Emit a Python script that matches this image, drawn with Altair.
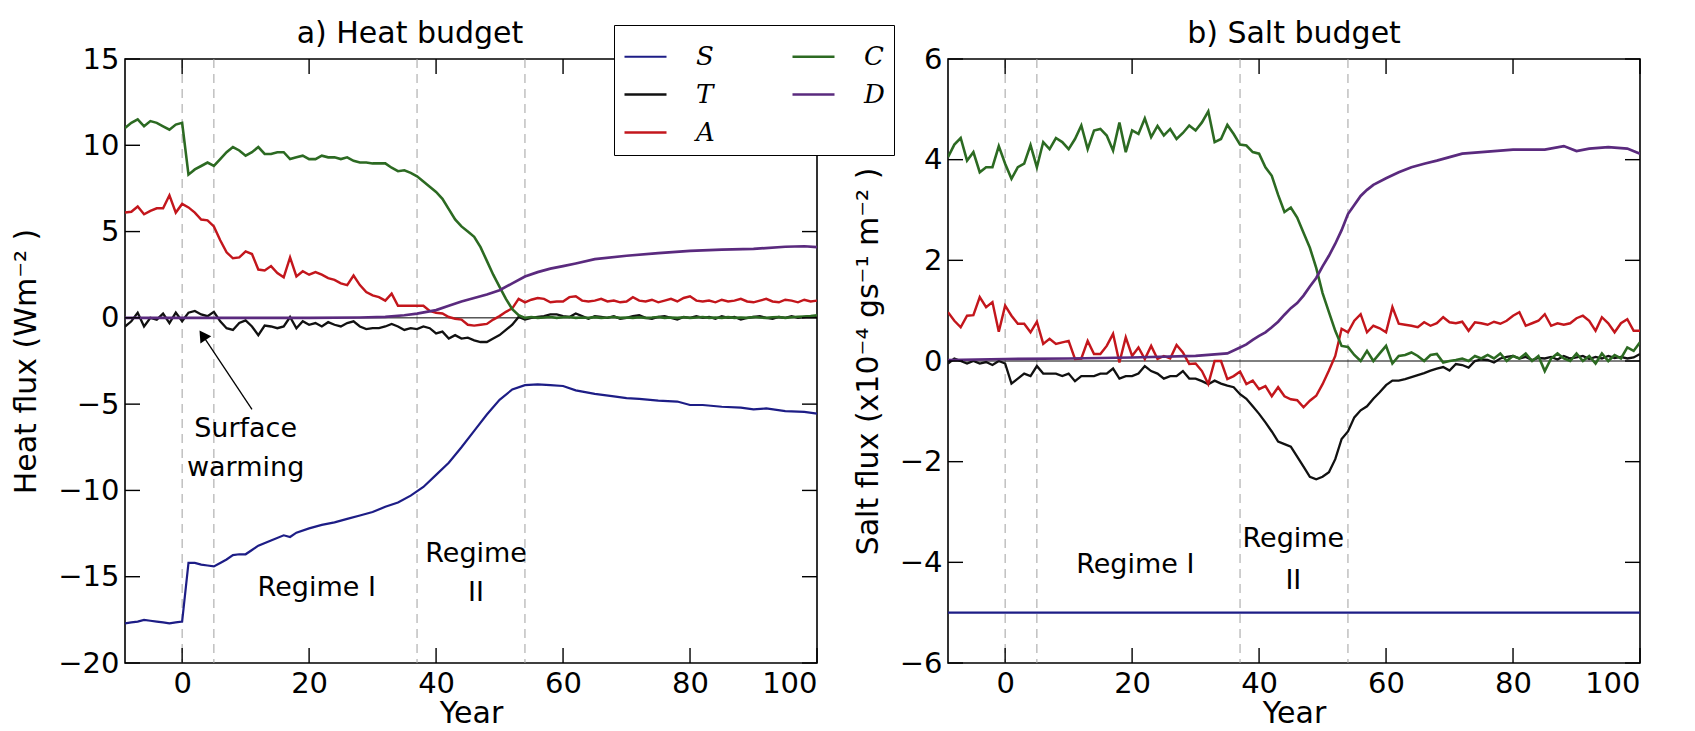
import altair as alt
import pandas as pd

# ---------------- data ----------------
YEARS = list(range(-9, 101))

SERIES = ["S", "T", "A", "C", "D"]          # legend fills column by column
COLORS = ["#1d1d86", "#111111", "#c3161c", "#2c6a22", "#5a2a7e"]
WIDTHS = [2.2, 2.7, 2.2, 2.2, 2.2]

# Heat budget (W m-2)
heat_C = [11.0, 11.3, 11.5, 11.1, 11.4, 11.3, 11.1, 10.9, 11.2, 11.3,
          8.3, 8.6, 8.8, 9.0, 8.8, 9.2, 9.6, 9.9, 9.7, 9.4,
          9.6, 9.9, 9.5, 9.5, 9.6, 9.6, 9.2, 9.3, 9.4, 9.2,
          9.2, 9.4, 9.3, 9.3, 9.2, 9.3, 9.1, 9.0, 9.0, 8.95,
          8.95, 8.95, 8.7, 8.5, 8.55, 8.4, 8.2, 7.9, 7.6, 7.3,
          6.9, 6.3, 5.7, 5.3, 5.0, 4.7, 4.1, 3.3, 2.5, 1.8,
          1.1, 0.5, 0.15, 0.0, 0.05, 0.0, 0.02, 0.05, 0.0, 0.03,
          0.05, 0.0, 0.02, 0.0, 0.04, 0.0, 0.02, 0.05, 0.0, 0.02,
          0.0, 0.03, 0.0, 0.02, 0.05, 0.0, 0.02, 0.0, 0.03, 0.0,
          0.02, 0.05, 0.0, 0.02, 0.0, 0.04, 0.0, 0.02, 0.0, 0.05,
          0.02, 0.0, 0.03, 0.05, 0.0, 0.04, 0.06, 0.08, 0.1, 0.15]
heat_A = [6.1, 6.15, 6.45, 6.0, 6.2, 6.35, 6.35, 7.1, 6.1, 6.6,
          6.4, 6.1, 5.7, 5.65, 5.3, 4.5, 3.8, 3.45, 3.5, 3.85,
          3.7, 2.8, 2.75, 3.0, 2.6, 2.35, 3.5, 2.4, 2.7, 2.5,
          2.65, 2.5, 2.3, 2.2, 2.0, 1.9, 2.45, 1.9, 1.5, 1.3,
          1.2, 1.0, 1.4, 0.7, 0.7, 0.7, 0.7, 0.7, 0.4, 0.3,
          0.25, 0.05, -0.05, -0.1, -0.4, -0.45, -0.4, -0.35, -0.1, 0.1,
          0.35, 0.55, 1.1, 0.9, 1.05, 1.15, 1.1, 0.9, 0.95, 0.95,
          1.2, 1.25, 1.0, 0.95, 1.0, 1.1, 0.95, 1.0, 0.9, 0.95,
          1.2, 1.0, 0.95, 1.05, 0.9, 1.0, 1.1, 0.95, 1.15, 1.25,
          1.0, 0.95, 1.0, 0.9, 1.05, 0.95, 1.0, 1.1, 0.95, 0.9,
          1.0, 1.1, 0.95, 0.9, 1.05, 1.0, 0.9, 1.05, 0.95, 1.0]
heat_T = [-0.5, -0.2, 0.3, -0.5, 0.0, -0.1, 0.25, -0.3, 0.3, -0.2,
          0.3, 0.4, 0.2, 0.1, 0.35, -0.2, -0.6, -0.7, -0.3, -0.15,
          -0.5, -1.0, -0.45, -0.5, -0.6, -0.5, 0.05, -0.6, -0.2, -0.4,
          -0.3, -0.5, -0.25, -0.4, -0.5, -0.3, -0.2, -0.5, -0.65, -0.6,
          -0.6, -0.5, -0.35, -0.5, -0.7, -0.6, -0.65, -0.5, -0.6, -0.9,
          -0.8, -1.2, -1.0, -1.2, -1.15, -1.3, -1.4, -1.4, -1.2, -1.0,
          -0.7, -0.4, 0.05, -0.1, 0.0, 0.05, 0.1, 0.2, 0.2, 0.1,
          0.05, 0.25, 0.1, -0.05, 0.1, 0.05, 0.0, 0.1, -0.05, 0.0,
          0.1, 0.15, 0.0, -0.05, 0.05, 0.1, 0.0, -0.1, 0.05, 0.0,
          0.1, 0.0, 0.05, -0.05, 0.1, 0.0, 0.05, -0.1, 0.0, 0.05,
          0.1, 0.0, -0.05, 0.05, 0.0, 0.1, 0.0, 0.05, 0.1, 0.05]
heat_D_years = [-9, 0, 10, 20, 28, 32, 35, 37, 40, 42, 44, 46, 48, 50, 52, 54,
                56, 58, 60, 62, 65, 70, 75, 80, 85, 90, 95, 98, 100]
heat_D = [0.0, 0.0, 0.0, 0.0, 0.02, 0.06, 0.15, 0.25, 0.45, 0.7, 0.95, 1.15,
          1.35, 1.6, 2.0, 2.4, 2.65, 2.85, 3.0, 3.15, 3.4, 3.6, 3.75, 3.88,
          3.95, 4.0, 4.12, 4.15, 4.1]
heat_S_years = [-9, -8, -7, -6, -5, -4, -3, -2, -1, 0, 1, 2, 3, 4, 5, 6, 7, 8, 9,
                10, 11, 12, 14, 16, 17, 18, 20, 22, 24, 26, 28, 30, 32, 34, 36,
                38, 40, 42, 44, 46, 48, 50, 52, 54, 56, 58, 60, 62, 65, 68, 70,
                72, 75, 78, 80, 82, 85, 88, 90, 92, 95, 98, 100]
heat_S = [-17.7, -17.65, -17.6, -17.5, -17.55, -17.6, -17.65, -17.7, -17.65,
          -17.6, -14.2, -14.2, -14.3, -14.35, -14.4, -14.2, -14.0, -13.75,
          -13.7, -13.7, -13.45, -13.2, -12.9, -12.6, -12.7, -12.45, -12.2,
          -12.0, -11.85, -11.65, -11.45, -11.25, -10.95, -10.7, -10.3, -9.8,
          -9.1, -8.4, -7.5, -6.55, -5.6, -4.75, -4.15, -3.9, -3.85, -3.9,
          -3.95, -4.2, -4.4, -4.55, -4.65, -4.7, -4.8, -4.85, -5.05, -5.05,
          -5.15, -5.2, -5.3, -5.25, -5.4, -5.45, -5.55]

# Salt budget (x10^-4 g s-1 m-2)
salt_C = [4.05, 4.3, 4.43, 3.98, 4.15, 3.75, 3.85, 3.85, 4.27, 3.92,
          3.62, 3.85, 3.92, 4.29, 3.85, 4.35, 4.21, 4.43, 4.35, 4.21,
          4.41, 4.68, 4.21, 4.58, 4.61, 4.48, 4.18, 4.74, 4.15, 4.58,
          4.51, 4.82, 4.45, 4.67, 4.48, 4.61, 4.41, 4.53, 4.68, 4.58,
          4.74, 4.96, 4.35, 4.41, 4.69, 4.51, 4.3, 4.28, 4.15, 4.12,
          3.85, 3.68, 3.3, 2.96, 3.05, 2.85, 2.55, 2.25, 1.85, 1.35,
          0.97, 0.6, 0.3, 0.28, 0.12, 0.0, 0.2, 0.0, 0.15, 0.3,
          -0.05, 0.1, 0.12, 0.17, 0.1, 0.0, 0.12, 0.14, -0.03, 0.0,
          0.02, 0.05, 0.0, 0.1, 0.05, 0.12, 0.05, 0.15, 0.0, 0.1,
          0.05, 0.15, 0.0, 0.1, -0.2, 0.05, 0.15, 0.05, 0.0, 0.15,
          0.0, 0.1, -0.05, 0.15, 0.0, 0.12, 0.05, 0.27, 0.2, 0.37]
salt_A = [0.97, 0.8, 0.67, 0.9, 0.91, 1.27, 1.07, 1.17, 0.58, 1.1,
          0.9, 0.74, 0.74, 0.57, 0.78, 0.34, 0.44, 0.34, 0.37, 0.4,
          0.04, 0.05, 0.4, 0.14, 0.14, 0.3, 0.54, -0.03, 0.47, 0.1,
          0.27, 0.04, 0.3, 0.04, 0.1, 0.05, 0.32, 0.17, -0.06, -0.05,
          -0.2, -0.46, 0.0, 0.0, -0.36, -0.3, -0.21, -0.46, -0.39, -0.56,
          -0.5, -0.7, -0.52, -0.7, -0.76, -0.78, -0.92, -0.79, -0.69, -0.46,
          -0.19, 0.1, 0.64, 0.57, 0.8, 0.93, 0.57, 0.7, 0.65, 0.57,
          1.07, 0.74, 0.72, 0.7, 0.67, 0.77, 0.7, 0.75, 0.87, 0.77,
          0.75, 0.78, 0.6, 0.77, 0.75, 0.72, 0.78, 0.74, 0.8, 0.9,
          0.97, 0.7, 0.75, 0.8, 0.93, 0.7, 0.75, 0.72, 0.75, 0.85,
          0.9, 0.8, 0.6, 0.87, 0.75, 0.57, 0.75, 0.83, 0.6, 0.6]
salt_T = [-0.05, 0.05, 0.0, -0.05, 0.0, -0.05, -0.02, -0.08, 0.0, -0.05,
          -0.45, -0.35, -0.25, -0.3, -0.1, -0.25, -0.25, -0.25, -0.3, -0.25,
          -0.4, -0.3, -0.3, -0.3, -0.25, -0.25, -0.15, -0.35, -0.3, -0.3,
          -0.25, -0.1, -0.2, -0.25, -0.35, -0.3, -0.3, -0.2, -0.35, -0.35,
          -0.4, -0.46, -0.39, -0.45, -0.49, -0.52, -0.66, -0.75, -0.9, -1.05,
          -1.22, -1.4, -1.6, -1.65, -1.7, -1.9, -2.1, -2.3, -2.35, -2.3,
          -2.21, -1.95, -1.55, -1.4, -1.12, -0.98, -0.9, -0.75, -0.62, -0.48,
          -0.39, -0.39, -0.36, -0.32, -0.28, -0.24, -0.19, -0.15, -0.12, -0.19,
          -0.06, -0.08, -0.13, 0.0, 0.03, 0.02, -0.03, 0.05, 0.08, 0.1,
          0.05, 0.08, 0.02, 0.06, 0.05, 0.08, 0.03, 0.1, 0.05, 0.07,
          0.1, 0.04, 0.08, 0.05, 0.1, 0.06, 0.08, 0.05, 0.07, 0.14]
salt_D_years = [-9, 0, 10, 20, 30, 35, 37, 38, 39, 40, 41, 42, 43, 44, 45, 46,
                47, 48, 49, 50, 51, 52, 53, 54, 55, 56, 57, 58, 60, 62, 64, 66,
                68, 70, 72, 75, 80, 85, 88, 90, 92, 95, 98, 100]
salt_D = [0.02, 0.04, 0.05, 0.07, 0.1, 0.15, 0.27, 0.33, 0.42, 0.5, 0.57, 0.67,
          0.78, 0.92, 1.05, 1.15, 1.3, 1.48, 1.65, 1.88, 2.09, 2.33, 2.6, 2.92,
          3.1, 3.28, 3.4, 3.5, 3.63, 3.75, 3.85, 3.92, 3.98, 4.05, 4.12, 4.15,
          4.2, 4.2, 4.27, 4.17, 4.22, 4.25, 4.22, 4.12]
salt_S_years = [-9, 100]
salt_S = [-5.0, -5.0]

X_TICKS = [0, 20, 40, 60, 80, 100]
HEAT_Y_TICKS = [-20, -15, -10, -5, 0, 5, 10, 15]
SALT_Y_TICKS = [-6, -4, -2, 0, 2, 4, 6]
EVENT_YEARS = [0, 5, 37, 54]

HEAT_LABELS = ["Surface", "warming", "Regime I", "Regime", "II"]
HEAT_LABEL_X = [10.0, 10.0, 21.2, 46.3, 46.3]
HEAT_LABEL_Y = [-6.43, -8.69, -15.64, -13.67, -15.93]
SALT_LABELS = ["Regime I", "Regime", "II"]
SALT_LABEL_X = [20.5, 45.4, 45.4]
SALT_LABEL_Y = [-4.06, -3.54, -4.37]
ARROW_TAIL = (11.0, -5.3)
ARROW_HEAD = (3.4, -1.1)

W, H = 692, 604
FONT = "DejaVu Sans"
TICK_LEN = 15


def long_df(parts):
    rows = []
    for name, yrs, vals in parts:
        for y, v in zip(yrs, vals):
            rows.append({"year": y, "value": v, "series": name})
    return pd.DataFrame(rows)


def panel(parts, ydomain, yticks, ytitle, title, title_dx, labels, show_legend,
          arrow=False):
    df = long_df(parts)
    xs = alt.Scale(domain=[-9, 100], nice=False, zero=False)
    ys = alt.Scale(domain=ydomain, nice=False, zero=False)
    X = alt.X("year:Q", scale=xs, title="Year",
              axis=alt.Axis(values=X_TICKS, ticks=False, domain=False, grid=False,
                            labelPadding=6, titlePadding=0, format="d",
                            labelFont=FONT, labelFontSize=29, labelColor="black",
                            titleFont=FONT, titleFontSize=30, titleFontWeight="normal",
                            titleColor="black"))
    Y = alt.Y("value:Q", scale=ys, title=ytitle,
              axis=alt.Axis(values=yticks, ticks=False, domain=False, grid=False,
                            labelPadding=6, titlePadding=16, format="d",
                            labelFont=FONT, labelFontSize=29, labelColor="black",
                            titleFont=FONT, titleFontSize=30, titleFontWeight="normal",
                            titleColor="black"))

    if show_legend:
        legend = alt.Legend(orient="none", legendX=489, legendY=-34, columns=2,
                            direction="vertical",
                            title=None, symbolType="stroke", symbolSize=1764,
                            symbolStrokeWidth=3, labelFont="DejaVu Serif",
                            labelFontStyle="italic", labelFontSize=26,
                            labelColor="black", labelOffset=28,
                            columnPadding=72, rowPadding=2, padding=9,
                            strokeColor="black", fillColor="white")
    else:
        legend = None
    color = alt.Color("series:N",
                      scale=alt.Scale(domain=SERIES, range=COLORS),
                      legend=legend)
    sw = alt.StrokeWidth("series:N", scale=alt.Scale(domain=SERIES, range=WIDTHS),
                         legend=None)

    layers = []
    ev = pd.DataFrame({"year": EVENT_YEARS})
    layers.append(alt.Chart(ev).mark_rule(color="#a0a0a0", strokeWidth=1,
                                          strokeDash=[9, 6]).encode(x=X))
    zl = pd.DataFrame({"value": [0]})
    layers.append(alt.Chart(zl).mark_rule(color="black", strokeWidth=1).encode(y=Y))
    layers.append(alt.Chart(df).mark_line(clip=True).encode(
        x=X, y=Y, color=color, strokeWidth=sw, detail="series:N"))
    xt = pd.DataFrame({"year": X_TICKS})
    yt = pd.DataFrame({"value": yticks})
    layers.append(alt.Chart(xt).mark_rule(color="black", strokeWidth=1.4).encode(
        x=X, y=alt.value(H), y2=alt.value(H - TICK_LEN)))
    layers.append(alt.Chart(xt).mark_rule(color="black", strokeWidth=1.4).encode(
        x=X, y=alt.value(0), y2=alt.value(TICK_LEN)))
    layers.append(alt.Chart(yt).mark_rule(color="black", strokeWidth=1.4).encode(
        y=Y, x=alt.value(0), x2=alt.value(TICK_LEN)))
    layers.append(alt.Chart(yt).mark_rule(color="black", strokeWidth=1.4).encode(
        y=Y, x=alt.value(W), x2=alt.value(W - TICK_LEN)))
    lt, lx, ly = labels
    tdf = pd.DataFrame({"year": lx, "value": ly, "label": lt})
    layers.append(alt.Chart(tdf).mark_text(font=FONT, fontSize=27, color="black",
                                           align="center", baseline="middle").encode(
        x=X, y=Y, text="label:N"))
    if arrow:
        adf = pd.DataFrame({"year": [ARROW_TAIL[0]], "value": [ARROW_TAIL[1]],
                            "year2": [ARROW_HEAD[0]], "value2": [ARROW_HEAD[1]]})
        layers.append(alt.Chart(adf).mark_rule(color="black", strokeWidth=1.3).encode(
            x=X, y=Y, x2="year2:Q", y2="value2:Q"))
        hdf = pd.DataFrame({"year": [ARROW_HEAD[0]], "value": [ARROW_HEAD[1]]})
        layers.append(alt.Chart(hdf).mark_point(shape="triangle", filled=True,
                                                size=170, angle=326, color="black",
                                                opacity=1).encode(x=X, y=Y))

    return alt.layer(*layers).properties(
        width=W, height=H,
        title=alt.TitleParams(title, dx=title_dx, offset=-4, fontSize=30, font=FONT,
                              fontWeight="normal", anchor="middle", color="black"))


heat_parts = [("S", heat_S_years, heat_S), ("T", YEARS, heat_T),
              ("A", YEARS, heat_A), ("C", YEARS, heat_C), ("D", heat_D_years, heat_D)]
salt_parts = [("S", salt_S_years, salt_S), ("T", YEARS, salt_T),
              ("A", YEARS, salt_A), ("C", YEARS, salt_C), ("D", salt_D_years, salt_D)]

left = panel(heat_parts, [-20, 15], HEAT_Y_TICKS, "Heat flux (Wm⁻² )",
             "a) Heat budget", -61, (HEAT_LABELS, HEAT_LABEL_X, HEAT_LABEL_Y),
             True, arrow=True)
right = panel(salt_parts, [-6, 6], SALT_Y_TICKS, "Salt flux (x10⁻⁴ gs⁻¹ m⁻² )",
              "b) Salt budget", 0, (SALT_LABELS, SALT_LABEL_X, SALT_LABEL_Y),
              False)

chart = alt.hconcat(left, right, spacing=131, bounds="flush").properties(
    padding={"left": 10, "top": 18, "right": 5, "bottom": 0},
    background="white"
).configure_view(stroke="black", strokeWidth=1.6)

chart.save("out.html", embed_options={"renderer": "svg", "actions": False})
